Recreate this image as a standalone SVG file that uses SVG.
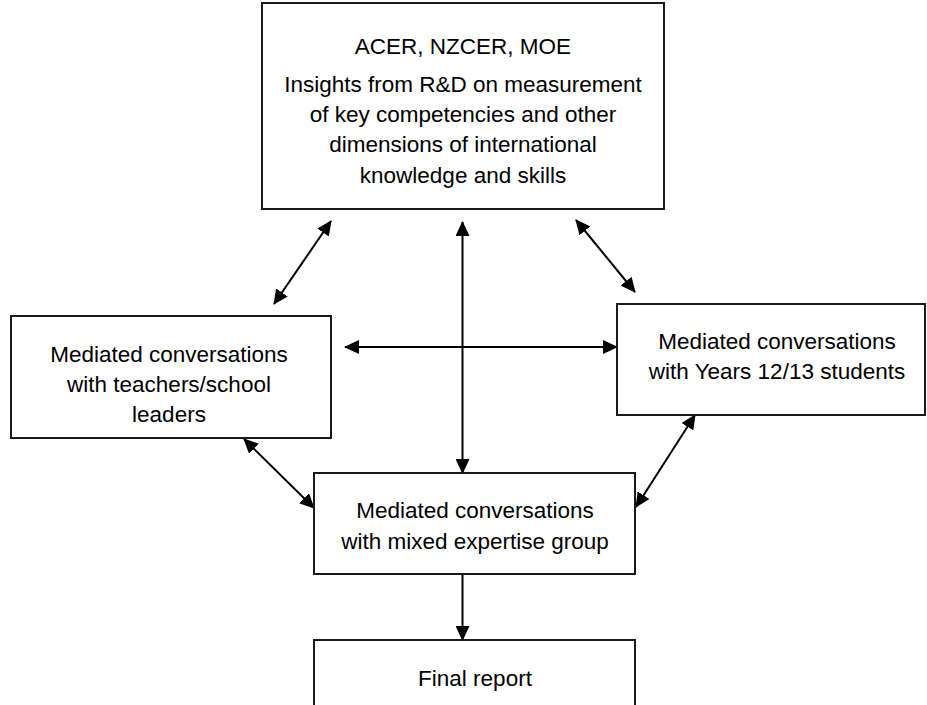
<svg xmlns="http://www.w3.org/2000/svg" width="927" height="705" viewBox="0 0 927 705">
<style>
.box{fill:#fff;stroke:#1a1a1a;stroke-width:2}
.t{font-family:"Liberation Sans",Arial,sans-serif;font-size:22.5px;fill:#000;text-anchor:middle}
.c{stroke:#000;stroke-width:2;fill:none;marker-end:url(#ah)}
.b{marker-start:url(#ah)}
</style>
<defs>
<marker id="ah" viewBox="0 0 15 14" refX="14" refY="7" markerWidth="15" markerHeight="14" markerUnits="userSpaceOnUse" orient="auto-start-reverse">
<path d="M0,0 L15,7 L0,14 z" fill="#000"/>
</marker>
</defs>
<rect width="927" height="705" fill="#fff"/>
<g id="connectors">
<line class="c b" x1="331" y1="221" x2="274" y2="304"/>
<line class="c b" x1="576" y1="220" x2="635" y2="292"/>
<line class="c b" x1="345" y1="347" x2="617" y2="347"/>
<line class="c b" x1="462.5" y1="222" x2="462.5" y2="473"/>
<line class="c b" x1="244" y1="439" x2="314" y2="508"/>
<line class="c b" x1="695" y1="415" x2="636" y2="507"/>
<line class="c" x1="462.5" y1="574" x2="462.5" y2="640"/>
</g>
<g id="top">
<rect class="box" x="262" y="3" width="402" height="206"/>
<text class="t" x="463" y="54">ACER, NZCER, MOE</text>
<text class="t" x="463" y="92">Insights from R&amp;D on measurement</text>
<text class="t" x="463" y="122">of key competencies and other</text>
<text class="t" x="463" y="152">dimensions of international</text>
<text class="t" x="463" y="183">knowledge and skills</text>
</g>
<g id="left">
<rect class="box" x="11" y="316" width="320" height="122"/>
<text class="t" x="169" y="362">Mediated conversations</text>
<text class="t" x="169" y="392">with teachers/school</text>
<text class="t" x="169" y="422">leaders</text>
</g>
<g id="right">
<rect class="box" x="617" y="304" width="308" height="111"/>
<text class="t" x="777" y="349">Mediated conversations</text>
<text class="t" x="777" y="379">with Years 12/13 students</text>
</g>
<g id="middle">
<rect class="box" x="314" y="473" width="321" height="101"/>
<text class="t" x="475" y="518">Mediated conversations</text>
<text class="t" x="475" y="549">with mixed expertise group</text>
</g>
<g id="final">
<rect class="box" x="314" y="640" width="321" height="80"/>
<text class="t" x="475" y="686">Final report</text>
</g>
</svg>
